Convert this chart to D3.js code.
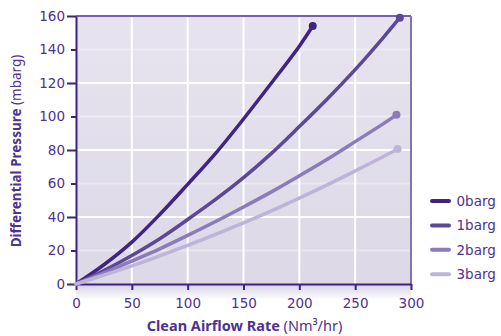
<!DOCTYPE html>
<html><head><meta charset="utf-8">
<script src="https://cdn.jsdelivr.net/npm/d3@7"></script>
<style>
html,body{margin:0;padding:0;background:#fff;}
svg{display:block;font-family:"Noto Sans",sans-serif;}
</style></head>
<body><svg id="c" width="501" height="336"></svg>
<script>
const seriesNames = ["0barg","1barg","2barg","3barg"];
const seriesColors = ["#3f2482","#5d4797","#8b7bb8","#bdb4d7"];
const flow0 = [0,25,50,75,100,125,150,175,200,212];
const dp0   = [0,11.5,25,41.5,59.5,78,98.5,120,142,154];
const flow1 = [0,25,50,75,100,125,150,175,200,225,250,275,290];
const dp1   = [0,8,17,27,38.5,50.5,63.5,78,94,110.5,128,147,159];
const flow2 = [0,25,50,75,100,125,150,175,200,225,250,275,287];
const dp2   = [0,6.6,13.7,21,29,37.3,46,55,64.6,74.5,85,95.6,101];
const flow3 = [0,25,50,75,100,125,150,175,200,225,250,275,288];
const dp3   = [0,5.3,10.8,16.8,23,29.6,36.5,43.7,51.3,59.2,67.5,76,80.6];
const xTicks = [0,50,100,150,200,250,300];
const yTicks = [0,20,40,60,80,100,120,140,160];
const yMajor = [0,40,80,120,160];

const flows=[flow0,flow1,flow2,flow3], dps=[dp0,dp1,dp2,dp3];
const svg=d3.select("#c");
const L=76,R=411,T=16,B=284;
const x=d3.scaleLinear().domain([0,300]).range([L,R]);
const y=d3.scaleLinear().domain([0,160]).range([B,T]);
const txt="#4e3290";
const tickFont="'DejaVu Sans',sans-serif";
const defs=svg.append("defs");
const bg=defs.append("linearGradient").attr("id","bg").attr("x1",0).attr("y1",0).attr("x2",0).attr("y2",1);
bg.append("stop").attr("offset","0%").attr("stop-color","#e7e4ef");
bg.append("stop").attr("offset","100%").attr("stop-color","#dcd8e7");
const sh=defs.append("linearGradient").attr("id","sh").attr("x1",0).attr("y1",0).attr("x2",0).attr("y2",1);
sh.append("stop").attr("offset","0%").attr("stop-color","#d6d0e6");
sh.append("stop").attr("offset","100%").attr("stop-color","#ffffff");

svg.append("rect").attr("x",L).attr("y",B).attr("width",R-L).attr("height",16).attr("fill","url(#sh)");
svg.append("rect").attr("x",L).attr("y",T).attr("width",R-L).attr("height",B-T).attr("fill","url(#bg)");

// grid
svg.append("g").selectAll("line").data(yTicks.filter(v=>v>0&&v<160)).join("line")
  .attr("x1",L).attr("x2",R).attr("y1",d=>y(d)).attr("y2",d=>y(d))
  .attr("stroke","#fff").attr("stroke-width",2)
  .attr("stroke-opacity",d=>yMajor.includes(d)?1:0.35);
svg.append("g").selectAll("line").data(xTicks.filter(v=>v>0&&v<300)).join("line")
  .attr("y1",T).attr("y2",B).attr("x1",d=>x(d)).attr("x2",d=>x(d))
  .attr("stroke","#fff").attr("stroke-width",2);

// borders
svg.append("line").attr("x1",L).attr("x2",R).attr("y1",T).attr("y2",T).attr("stroke","#7560aa").attr("stroke-width",2);
svg.append("line").attr("x1",R).attr("x2",R).attr("y1",T).attr("y2",B).attr("stroke","#8572b4").attr("stroke-width",2);

// axes
const xa=svg.append("g").attr("transform",`translate(0,${B})`)
  .call(d3.axisBottom(x).tickValues(xTicks).tickSize(6).tickPadding(8).tickSizeOuter(0));
const ya=svg.append("g").attr("transform",`translate(${L},0)`)
  .call(d3.axisLeft(y).tickValues(yTicks).tickSize(9).tickPadding(2).tickSizeOuter(0));
ya.selectAll(".tick line").attr("x2",d=>yMajor.includes(d)?-9:-5);
[xa,ya].forEach(a=>{
  a.select(".domain").attr("stroke","#3d2478").attr("stroke-width",2);
  a.selectAll(".tick line").attr("stroke","#3d2478").attr("stroke-width",2);
  a.selectAll(".tick text").attr("fill",txt).attr("font-size",13.5).attr("font-family",tickFont);
});

// lines
const line=d3.line().curve(d3.curveCatmullRom.alpha(0.5));
flows.forEach((fx,i)=>{
  const pts=fx.map((f,j)=>[x(f),y(dps[i][j])]);
  svg.append("path").attr("d",line(pts)).attr("fill","none")
    .attr("stroke",seriesColors[i]).attr("stroke-width",3.5).attr("stroke-linecap","round");
  const last=pts[pts.length-1];
  svg.append("circle").attr("cx",last[0]).attr("cy",last[1]).attr("r",4).attr("fill",seriesColors[i]);
});

// titles
const xt=svg.append("text").attr("x",(L+R)/2+1).attr("y",331).attr("text-anchor","middle")
  .attr("fill",txt).attr("font-size",14.5);
xt.append("tspan").attr("font-weight","bold").text("Clean Airflow Rate");
xt.append("tspan").text(" (Nm³/hr)");
const yt=svg.append("text").attr("transform",`translate(20.5,${(T+B)/2+1}) rotate(-90)`).attr("text-anchor","middle")
  .attr("fill",txt).attr("font-size",13.5);
yt.append("tspan").attr("font-weight","bold").text("Differential Pressure");
yt.append("tspan").text(" (mbarg)");

// legend
const lg=svg.append("g").selectAll("g").data(seriesNames).join("g")
  .attr("transform",(d,i)=>`translate(432,${201+i*24.4})`);
lg.append("line").attr("x1",0).attr("x2",17).attr("stroke",(d,i)=>seriesColors[i])
  .attr("stroke-width",4).attr("stroke-linecap","round");
lg.append("text").attr("x",24.5).attr("dy","0.35em").attr("fill",txt).attr("font-size",13.5)
  .attr("font-family",tickFont).text(d=>d);
</script></body></html>
